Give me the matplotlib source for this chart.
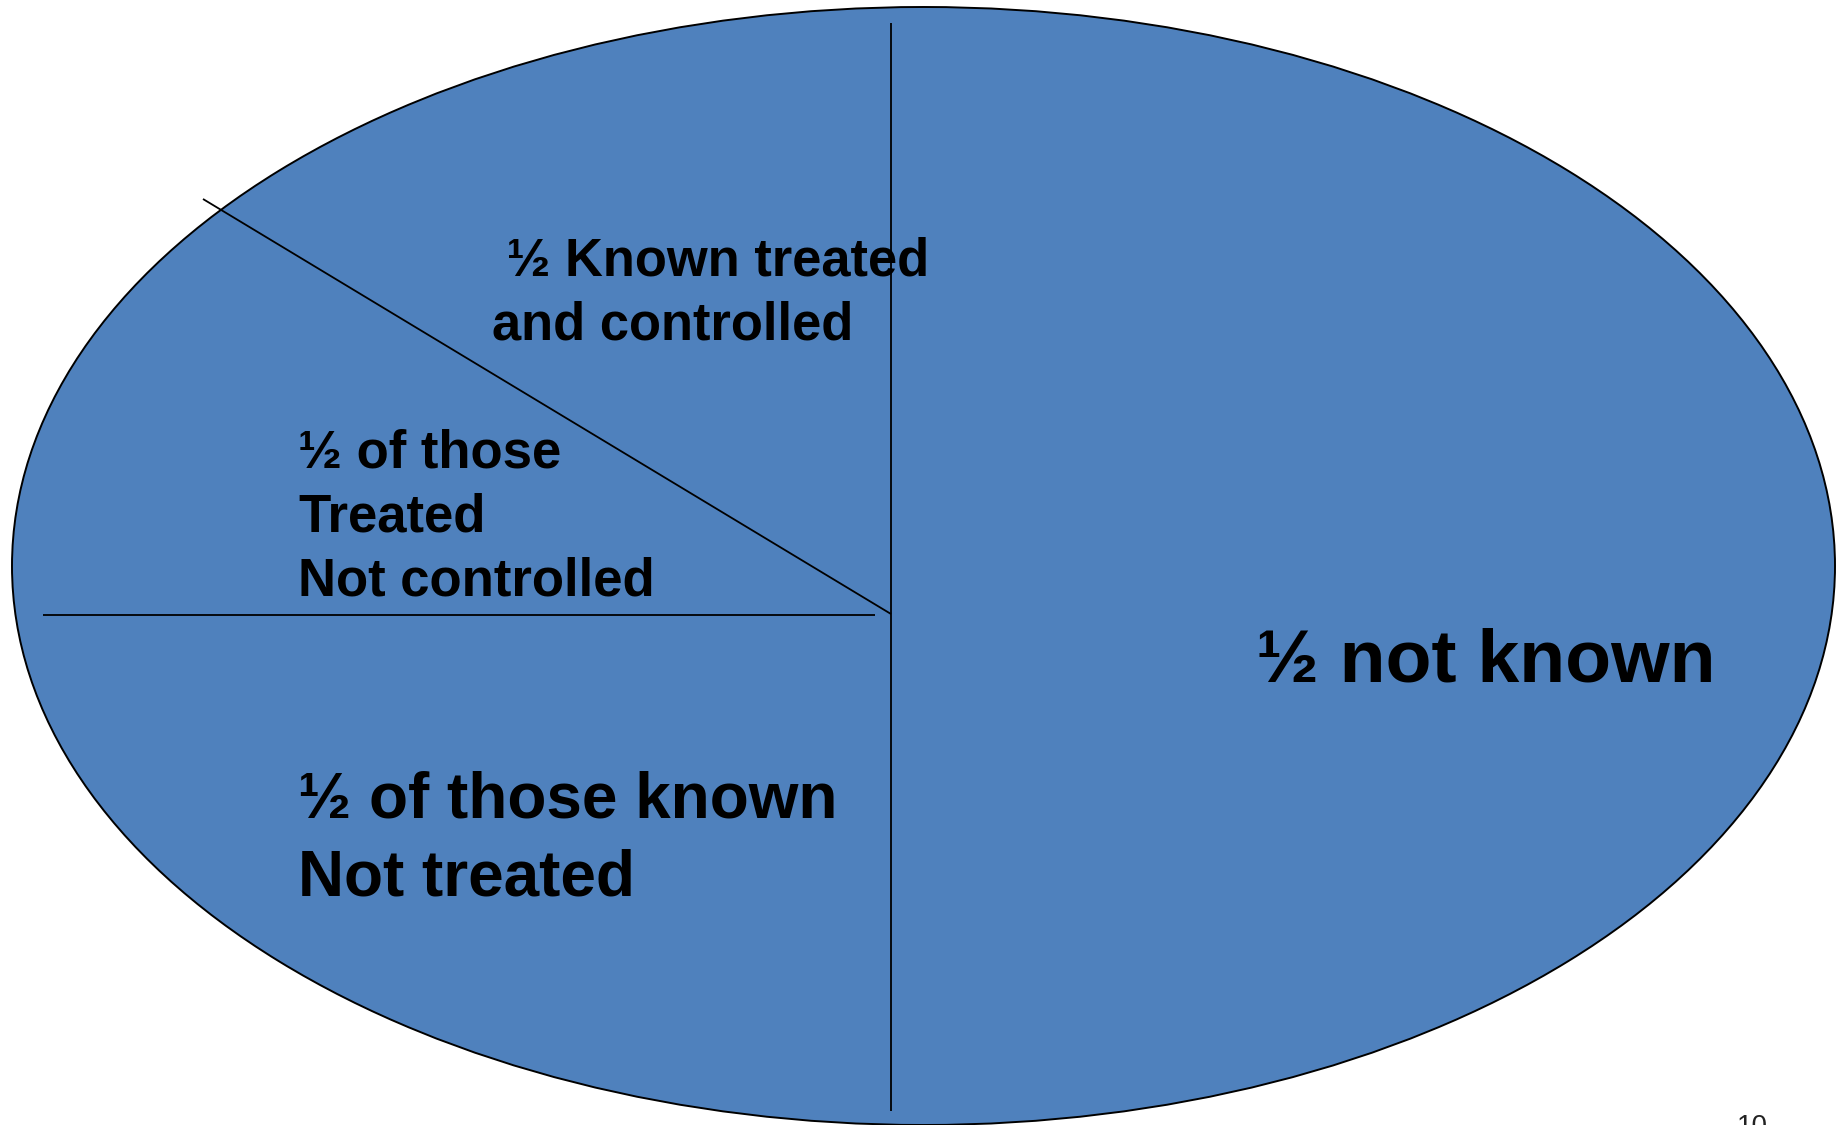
import matplotlib
matplotlib.use("Agg")
import matplotlib.pyplot as plt
from matplotlib.patches import Ellipse

# Share of people in each group (fractions of the whole population)
segments = ["not known", "known, not treated", "treated, not controlled", "treated and controlled"]
fractions = [0.5, 0.25, 0.125, 0.125]

# Labels shown in each region
label_not_known = "½ not known"
label_not_treated = "½ of those known\nNot treated"
label_not_controlled = "½ of those\nTreated\nNot controlled"
label_controlled = " ½ Known treated\nand controlled"
slide_number = "10"

W, H, DPI = 1841, 1125, 100
fill_color = "#4F81BD"
font = "Liberation Sans"

fig = plt.figure(figsize=(W / DPI, H / DPI), dpi=DPI)
ax = fig.add_axes([0, 0, 1, 1])
ax.set_xlim(0, W)
ax.set_ylim(H, 0)
ax.axis("off")

# Oval body
ax.add_patch(Ellipse((923.5, 566), 1823, 1118, facecolor=fill_color,
                     edgecolor="black", linewidth=1.4, zorder=1))

# Dividing lines
line_kw = dict(color="black", linewidth=1.3, zorder=2, solid_capstyle="butt")
ax.plot([891, 891], [23, 1111], **line_kw)          # halves: known / not known
ax.plot([43, 875], [615, 615], **line_kw)           # treated / not treated
ax.plot([203, 891], [199, 614], **line_kw)          # controlled / not controlled

txt_kw = dict(family=font, weight="bold", color="black", ha="left",
              va="baseline", zorder=3)

ax.text(1256, 682, label_not_known, fontsize=54.2, **txt_kw)

nt1, nt2 = label_not_treated.split("\n")
ax.text(298, 818, nt1, fontsize=46, **txt_kw)
ax.text(298, 895, nt2, fontsize=46, **txt_kw)

for i, line in enumerate(label_not_controlled.split("\n")):
    ax.text(298, 468 + i * 63.5, line, fontsize=38, **txt_kw)

for i, line in enumerate(label_controlled.split("\n")):
    ax.text(492, 276 + i * 64, line, fontsize=37.8, **txt_kw)

ax.text(1737, 1134, slide_number, family=font, fontsize=20, color="#222222",
        ha="left", va="baseline")

fig.savefig("out.png", dpi=DPI, facecolor="white")
